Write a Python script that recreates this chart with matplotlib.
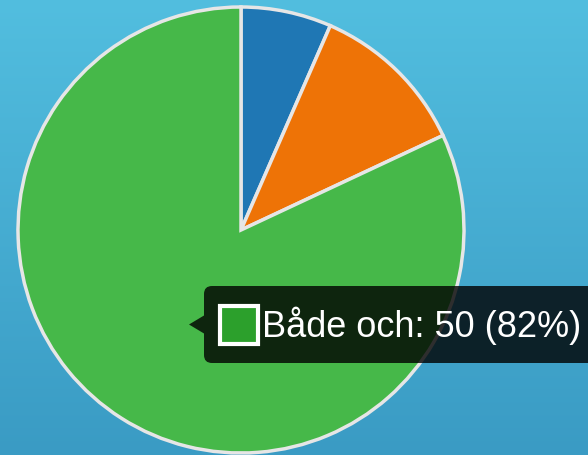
import matplotlib
matplotlib.use("Agg")
import matplotlib.pyplot as plt
import numpy as np
from matplotlib.patches import FancyBboxPatch, Polygon, Rectangle

# data
labels = ["Ja", "Nej", "Både och"]
values = [4, 7, 50]
colors = ["#1f77b4", "#ee7306", "#46b849"]
tooltip_index = 2

W, H = 588, 456
fig = plt.figure(figsize=(W / 100, H / 100), dpi=100)
ax = fig.add_axes([0, 0, 1, 1])

# background gradient (light at top, darker at bottom)
top = np.array([0x52, 0xbe, 0xdf]) / 255
bottom = np.array([0x3a, 0x9b, 0xc4]) / 255
t = np.linspace(0, 1, 200)[:, None]
grad = (top * (1 - t) + bottom * t)[:, None, :].repeat(2, axis=1)
ax.imshow(grad, extent=[0, W, 0, H], aspect="auto", zorder=0)

# pie
cx, cy, r = 241, H - 231, 223
ax.pie(values, colors=colors, startangle=90, counterclock=False,
       center=(cx, cy), radius=r, frame=True,
       wedgeprops=dict(edgecolor="#e6e6e6", linewidth=2.5))

# tooltip
total = sum(values)
pct = round(values[tooltip_index] / total * 100)
text = f"{labels[tooltip_index]}: {values[tooltip_index]} ({pct}%)"
x0, y0, x1, y1 = 204, H - 364, 600, H - 287
box = FancyBboxPatch((x0, y0), x1 - x0, y1 - y0,
                     boxstyle="round,pad=0,rounding_size=8",
                     facecolor=(0, 0, 0, 0.8), edgecolor="none", zorder=5)
ax.add_patch(box)
ymid = (y0 + y1) / 2
ax.add_patch(Polygon([(x0, ymid + 9), (x0 - 15, ymid), (x0, ymid - 9)],
                     closed=True, facecolor=(0, 0, 0, 0.8), edgecolor="none", zorder=5))
ax.add_patch(Rectangle((220, ymid - 19), 38, 38, facecolor="#2ca02c",
                       edgecolor="white", linewidth=3, zorder=6))
ax.text(262, ymid, text, color="white", fontsize=26, family="Liberation Sans",
        va="center", ha="left", zorder=7)

ax.set_xlim(0, W)
ax.set_ylim(0, H)
ax.set_aspect("auto")
ax.axis("off")

fig.savefig("out.png", dpi=100)
